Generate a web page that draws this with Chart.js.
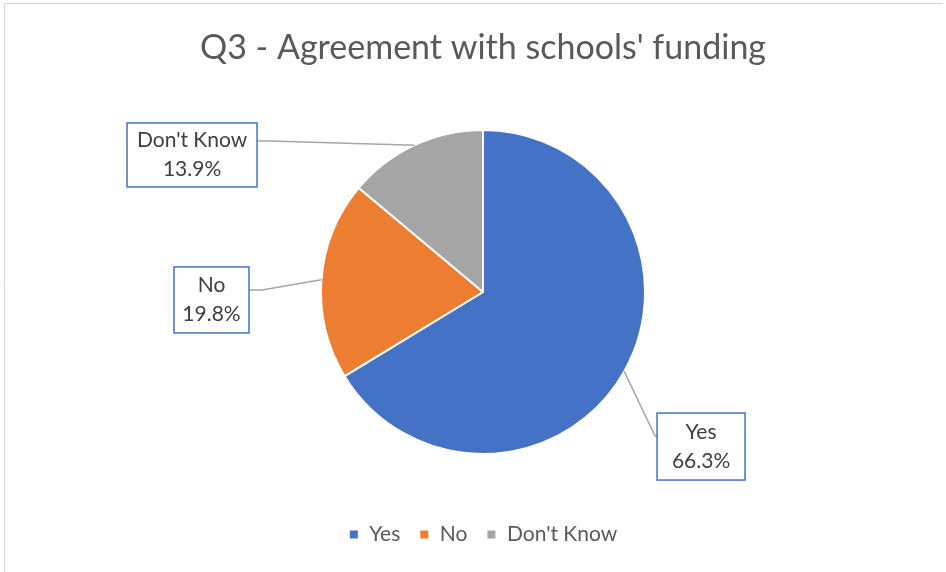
<!DOCTYPE html>
<html>
<head>
<meta charset="utf-8">
<script src="https://cdn.jsdelivr.net/npm/chart.js@4"></script>
<style>
  html, body { margin: 0; padding: 0; background: #fff; }
  #wrap { width: 946px; height: 572px; }
</style>
</head>
<body>
<div id="wrap"><canvas id="c" width="946" height="572"></canvas></div>
<script>
const chartTitle = "Q3 - Agreement with schools' funding";
const categories = ["Yes", "No", "Don't Know"];
const shares = [66.3, 19.8, 13.9];
const sliceColors = ["#4472C4", "#ED7D31", "#A5A5A5"];

// callout boxes placed relative to pie centre, in units of the pie radius
const calloutPlacement = [
  { cx: 1.346, cy: 0.954, w: 88, h: 67, attach: 23, elbow: 2 },
  { cx: -1.676, cy: 0.049, w: 75, h: 66, attach: 23, elbow: 13 },
  { cx: -1.796, cy: -0.846, w: 130, h: 64, attach: 18, elbow: 13 }
];

const FONT = "Lato, 'Open Sans', sans-serif";

const framePlugin = {
  id: 'frame',
  beforeDraw(chart) {
    const ctx = chart.ctx;
    ctx.save();
    ctx.fillStyle = '#fff';
    ctx.fillRect(0, 0, chart.width, chart.height);
    ctx.strokeStyle = '#d4d4d4';
    ctx.lineWidth = 1;
    ctx.beginPath();
    ctx.moveTo(4.5, chart.height);
    ctx.lineTo(4.5, 3.5);
    ctx.lineTo(942, 3.5);
    ctx.stroke();
    ctx.restore();
  }
};

const calloutPlugin = {
  id: 'callouts',
  afterDatasetsDraw(chart) {
    const ctx = chart.ctx;
    const meta = chart.getDatasetMeta(0);
    ctx.save();
    meta.data.forEach((arc, i) => {
      const p = arc.getProps(['x', 'y', 'startAngle', 'endAngle', 'outerRadius'], true);
      const mid = (p.startAngle + p.endAngle) / 2;
      const r = p.outerRadius;
      const c = calloutPlacement[i];
      const bx = p.x + c.cx * r, by = p.y + c.cy * r;
      const left = bx - c.w / 2, top = by - c.h / 2;
      const right = left + c.w;
      const onRight = bx > p.x;
      const ax = p.x + Math.cos(mid) * r, ay = p.y + Math.sin(mid) * r;
      const attachY = top + c.attach;
      const sideX = onRight ? left : right;
      const elbowX = onRight ? sideX - c.elbow : sideX + c.elbow;
      // leader line
      ctx.strokeStyle = '#A6A6A6';
      ctx.lineWidth = 1.5;
      ctx.beginPath();
      ctx.moveTo(ax, ay);
      ctx.lineTo(elbowX, attachY);
      ctx.lineTo(sideX, attachY);
      ctx.stroke();
      // box
      ctx.fillStyle = '#fff';
      ctx.fillRect(left, top, c.w, c.h);
      ctx.strokeStyle = '#4472C4';
      ctx.lineWidth = 1.5;
      ctx.strokeRect(left, top, c.w, c.h);
      // text
      ctx.fillStyle = '#404040';
      ctx.font = '21px ' + FONT;
      ctx.textAlign = 'center';
      ctx.textBaseline = 'middle';
      ctx.fillText(categories[i], bx, by - 14.5);
      ctx.fillText(shares[i].toFixed(1) + '%', bx, by + 14.5);
    });
    ctx.restore();
  }
};

new Chart(document.getElementById('c'), {
  type: 'pie',
  data: {
    labels: categories,
    datasets: [{
      data: shares,
      backgroundColor: sliceColors,
      borderColor: '#ffffff',
      borderWidth: 2
    }]
  },
  options: {
    responsive: false,
    animation: false,
    radius: 162,
    layout: { padding: { left: 20, right: 0, top: 0, bottom: 17 } },
    plugins: {
      title: {
        display: true,
        text: chartTitle,
        color: '#595959',
        font: { family: FONT, size: 34, weight: 'normal' },
        padding: { top: 27.6, bottom: 10.6 }
      },
      legend: {
        position: 'bottom',
        labels: {
          color: '#595959',
          font: { family: FONT, size: 21 },
          boxWidth: 10,
          boxHeight: 10,
          padding: 19
        }
      },
      tooltip: { enabled: false }
    }
  },
  plugins: [framePlugin, calloutPlugin]
});
</script>
</body>
</html>
